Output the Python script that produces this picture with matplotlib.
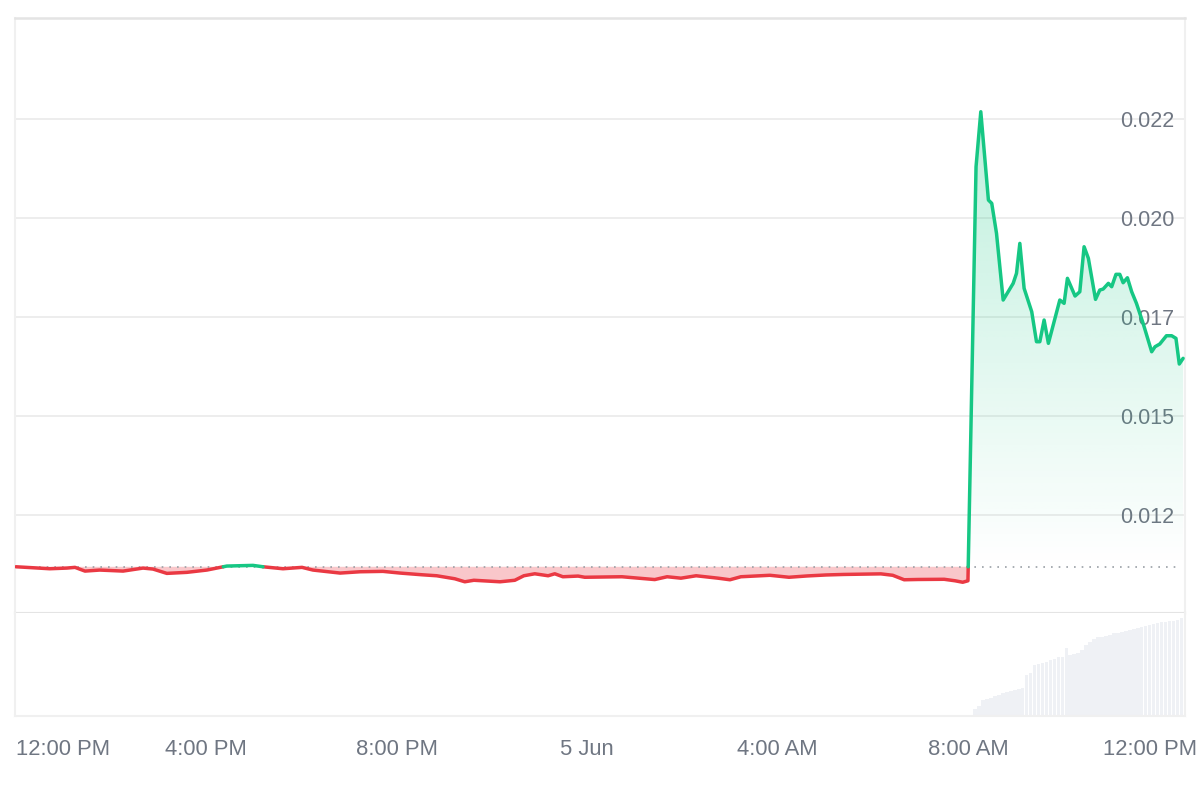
import numpy as np
import matplotlib
matplotlib.use("Agg")
import matplotlib.pyplot as plt
from matplotlib.path import Path
from matplotlib.transforms import ScaledTranslation

plt.rcParams["font.family"] = ["Liberation Sans", "DejaVu Sans"]

# price, hours since 12:00 PM 4 Jun
hours = [0.0, 0.36, 0.71, 1.07, 1.24, 1.45, 1.76, 2.25, 2.67, 2.88, 3.17, 3.59,
         4.01, 4.43, 4.98, 5.19, 5.61, 6.01, 6.24, 6.81, 7.23, 7.71, 8.07, 8.53,
         8.84, 9.22, 9.43, 9.62, 10.17, 10.48, 10.67, 10.90, 11.18, 11.32, 11.49,
         11.81, 11.95, 12.73, 13.42, 13.68, 13.97, 14.29, 14.75, 15.00, 15.23,
         15.84, 16.24, 16.62, 17.02, 17.39, 18.17, 18.42, 18.66, 18.95, 19.50,
         19.73, 19.89, 20.00,
         20.17, 20.27, 20.43, 20.50, 20.60, 20.74, 20.95, 21.02, 21.09, 21.18,
         21.34, 21.44, 21.51, 21.60, 21.69, 21.93, 22.02, 22.09, 22.25, 22.35,
         22.44, 22.53, 22.68, 22.77, 22.84, 22.95, 23.02, 23.11, 23.19, 23.26,
         23.35, 23.44, 23.54, 23.68, 23.86, 23.93, 24.03, 24.17, 24.28, 24.37,
         24.44, 24.52]
price = [0.011180, 0.011155, 0.011130, 0.011147, 0.011165, 0.011071, 0.011097,
         0.011071, 0.011147, 0.011122, 0.011013, 0.011039, 0.011097, 0.011198,
         0.011215, 0.011180, 0.011130, 0.011165, 0.011097, 0.011021, 0.011054,
         0.011064, 0.011021, 0.010978, 0.010953, 0.010877, 0.010801, 0.010839,
         0.010801, 0.010839, 0.010953, 0.011003, 0.010953, 0.011003, 0.010928,
         0.010945, 0.010915, 0.010928, 0.010857, 0.010928, 0.010892, 0.010953,
         0.010892, 0.010852, 0.010928, 0.010965, 0.010915, 0.010948, 0.010973,
         0.010986, 0.011001, 0.010965, 0.010852, 0.010859, 0.010864, 0.010826,
         0.010789, 0.010826,
         0.021283, 0.022672, 0.020442, 0.020359, 0.019601, 0.017917, 0.018338,
         0.018591, 0.019348, 0.018212, 0.017621, 0.016864, 0.016864, 0.017412,
         0.016823, 0.017917, 0.017833, 0.018465, 0.018018, 0.018126, 0.019263,
         0.018970, 0.017934, 0.018169, 0.018194, 0.018338, 0.018253, 0.018566,
         0.018566, 0.018354, 0.018480, 0.018126, 0.017833, 0.017328, 0.016611,
         0.016737, 0.016806, 0.017015, 0.017015, 0.016949, 0.016301, 0.016444]

# volume bars (5 min), last hours only
vol_start = 20.15
volume = [7, 10, 16, 17, 18, 20, 21, 23, 24, 25, 26, 27, 28, 40, 42, 50, 51, 52,
          53, 55, 56, 58, 58, 67, 60, 61, 62, 65, 70, 73, 76, 78, 78, 79, 80, 82,
          82, 83, 84, 85, 86, 87, 88, 89, 90, 91, 92, 93, 93, 94, 94, 95, 97]

ytick_vals = [0.0125, 0.015, 0.0175, 0.020, 0.0225]
ytick_labels = ["0.012", "0.015", "0.017", "0.020", "0.022"]
xtick_vals = [0, 4, 8, 12, 16, 20, 24]
xtick_labels = ["12:00 PM", "4:00 PM", "8:00 PM", "5 Jun", "4:00 AM", "8:00 AM", "12:00 PM"]

GREEN = "#16c784"
RED = "#ea3943"
GRID = "#ececec"
FRAME = "#e4e4e4"
TXT = "#6f7682"

x = np.array(hours)
y = np.array(price)
base = y[0]

# insert crossing points so both colours meet on the baseline
xs, ys = [x[0]], [y[0]]
for i in range(1, len(x)):
    if (y[i - 1] - base) * (y[i] - base) < 0:
        t = (base - y[i - 1]) / (y[i] - y[i - 1])
        xs.append(x[i - 1] + t * (x[i] - x[i - 1]))
        ys.append(base)
    xs.append(x[i])
    ys.append(y[i])
xs, ys = np.array(xs), np.array(ys)

fig = plt.figure(figsize=(12, 8), dpi=100)
ax = fig.add_axes([15 / 1200, (800 - 612.7) / 800, 1170 / 1200, (612.7 - 18) / 800])
axv = fig.add_axes([15 / 1200, (800 - 716) / 800, 1170 / 1200, (716 - 612.7) / 800], sharex=ax)

xlim = (-0.02, 24.56)
ylim = (0.01002, 0.02504)

# fills
ax.fill_between(xs, ys, base, where=ys <= base, interpolate=True,
                color=RED, alpha=0.28, lw=0, zorder=2)
gcoll = ax.fill_between(xs, ys, base, where=ys >= base, interpolate=True,
                        facecolor="none", lw=0, zorder=2)
gpath = Path.make_compound_path(*gcoll.get_paths())
grad = np.zeros((256, 2, 4))
rgb = matplotlib.colors.to_rgb(GREEN)
grad[..., 0], grad[..., 1], grad[..., 2] = rgb
grad[..., 3] = np.linspace(0.28, 0.0, 256)[:, None]
im = ax.imshow(grad, extent=[xlim[0], xlim[1], base, ys.max()], aspect="auto",
               origin="upper", zorder=2, interpolation="bilinear")
im.set_clip_path(gpath, ax.transData)

# lines
ax.plot(xs, np.where(ys <= base, ys, np.nan), color=RED, lw=2.5, zorder=4,
        solid_joinstyle="round", solid_capstyle="round")
ax.plot(xs, np.where(ys >= base, ys, np.nan), color=GREEN, lw=2.5, zorder=4,
        solid_joinstyle="round", solid_capstyle="round")
ax.plot([xs[0], xlim[1] - 0.1], [base, base], color="#9aa0a6", lw=1.2,
        ls=(0, (1, 3.6)), zorder=3)

ax.set_xlim(*xlim)
ax.set_ylim(*ylim)
ax.set_yticks(ytick_vals)
ax.set_yticklabels(ytick_labels)
ax.yaxis.tick_right()
ax.tick_params(axis="y", length=0, pad=-7.5, labelsize=15.5, labelcolor=TXT)
for lab in ax.get_yticklabels():
    lab.set_horizontalalignment("right")
ax.tick_params(axis="x", length=0, labelbottom=False)
ax.grid(axis="y", color=GRID, lw=1.3, zorder=0)
ax.set_axisbelow(True)
for s in ["left", "right"]:
    ax.spines[s].set_color("#f0f0f0")
    ax.spines[s].set_linewidth(1.5)
ax.spines["top"].set_color(FRAME)
ax.spines["top"].set_linewidth(1.8)
ax.spines["bottom"].set_color(FRAME)
ax.spines["bottom"].set_linewidth(1.5)

# volume
vx = vol_start + np.arange(len(volume)) / 12
axv.bar(vx, volume, width=0.076, color="#eff1f5", lw=0)
axv.set_ylim(0, 102)
axv.set_yticks([])
axv.spines["top"].set_visible(False)
for s in ["left", "right", "bottom"]:
    axv.spines[s].set_color("#f0f0f0")
    axv.spines[s].set_linewidth(1.5)
axv.set_xticks(xtick_vals)
axv.set_xticklabels(xtick_labels)
axv.tick_params(axis="x", length=0, pad=16.5, labelsize=15.8, labelcolor=TXT)
xl = axv.get_xticklabels()
xl[0].set_horizontalalignment("left")
xl[-1].set_transform(xl[-1].get_transform() + ScaledTranslation(-8 / 100, 0, fig.dpi_scale_trans))

fig.savefig("out.png", dpi=100, facecolor="white")
